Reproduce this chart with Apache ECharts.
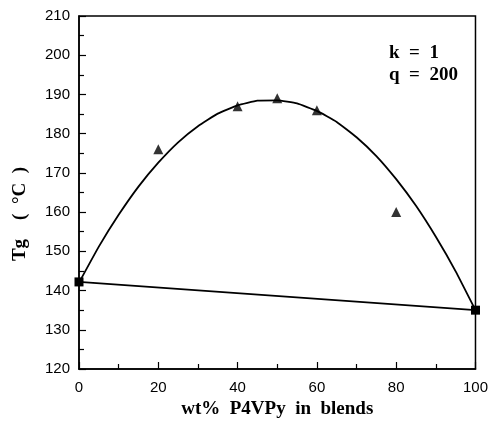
<!DOCTYPE html>
<html><head><meta charset="utf-8">
<script src="https://cdn.jsdelivr.net/npm/echarts@6/dist/echarts.min.js"></script>
<style>html,body{margin:0;padding:0;background:#fff}#c{width:491px;height:424px}</style>
</head><body><div id="c"></div>
<script>
var xTicks = [0, 20, 40, 60, 80, 100];
var yTicks = [120, 130, 140, 150, 160, 170, 180, 190, 200, 210];
var expX = [20, 40, 50, 60, 80];
var expTg = [176, 187, 189, 186, 160];
var pureX = [0, 100];
var pureTg = [142.2, 135];
var curveX = [0, 5, 10, 15, 20, 25, 30, 35, 40, 45, 50, 55, 60, 65, 70, 75, 80, 85, 90, 95, 100];
var curveTg = [142, 151.2, 159.3, 166.5, 172.6, 177.8, 181.9, 185.1, 187.2, 188.4, 188.5, 187.7, 185.8, 183, 179.1, 174.3, 168.4, 161.6, 153.7, 144.9, 135];
function pairs(a, b) { return a.map(function (v, i) { return [v, b[i]]; }); }
var chart = echarts.init(document.getElementById('c'));
chart.setOption({
  animation: false,
  grid: { left: 79, top: 16, right: 14, bottom: 49, show: true, borderColor: '#000', borderWidth: 1.5 },
  xAxis: {
    type: 'value', min: xTicks[0], max: xTicks[xTicks.length - 1], interval: 20,
    axisLine: { lineStyle: { color: '#000', width: 1.5 } },
    axisTick: { inside: true, length: 7, lineStyle: { color: '#000', width: 1.2 } },
    minorTick: { show: true, splitNumber: 2, length: 5, lineStyle: { color: '#000', width: 1.2 } },
    splitLine: { show: false },
    axisLabel: { color: '#000', fontFamily: 'Liberation Sans', fontSize: 15, margin: 11 },
    name: 'wt%  P4VPy  in  blends', nameLocation: 'middle', nameGap: 31,
    nameTextStyle: { color: '#000', fontFamily: 'Liberation Serif', fontWeight: 'bold', fontSize: 19 }
  },
  yAxis: {
    type: 'value', min: yTicks[0], max: yTicks[yTicks.length - 1], interval: 10,
    axisLine: { lineStyle: { color: '#000', width: 1.5 } },
    axisTick: { inside: true, length: 7, lineStyle: { color: '#000', width: 1.2 } },
    minorTick: { show: true, splitNumber: 2, length: 5, lineStyle: { color: '#000', width: 1.2 } },
    splitLine: { show: false },
    axisLabel: { color: '#000', fontFamily: 'Liberation Sans', fontSize: 15, margin: 9 },
    name: ''
  },
  graphic: [
    { type: 'text', x: 20, y: 214, rotation: Math.PI / 2,
      style: { text: 'Tg    (  °C  )', fill: '#000', font: 'bold 19px "Liberation Serif"', align: 'center', verticalAlign: 'middle' } },
    { type: 'text', left: 389, top: 42, style: { text: 'k  =  1\nq  =  200', fill: '#000', font: 'bold 19px "Liberation Serif"', lineHeight: 22 } }
  ],
  series: [
    { type: 'line', data: pairs(curveX, curveTg), smooth: 0.12, showSymbol: false, symbol: 'none',
      lineStyle: { color: '#000', width: 1.8 }, z: 2 },
    { type: 'line', data: pairs(pureX, pureTg), symbol: 'rect', symbolSize: 9,
      itemStyle: { color: '#000' }, lineStyle: { color: '#000', width: 1.8 }, z: 3 },
    { type: 'scatter', data: pairs(expX, expTg), symbol: 'triangle', symbolSize: 10,
      itemStyle: { color: '#000' }, z: 4 }
  ]
});
</script></body></html>
